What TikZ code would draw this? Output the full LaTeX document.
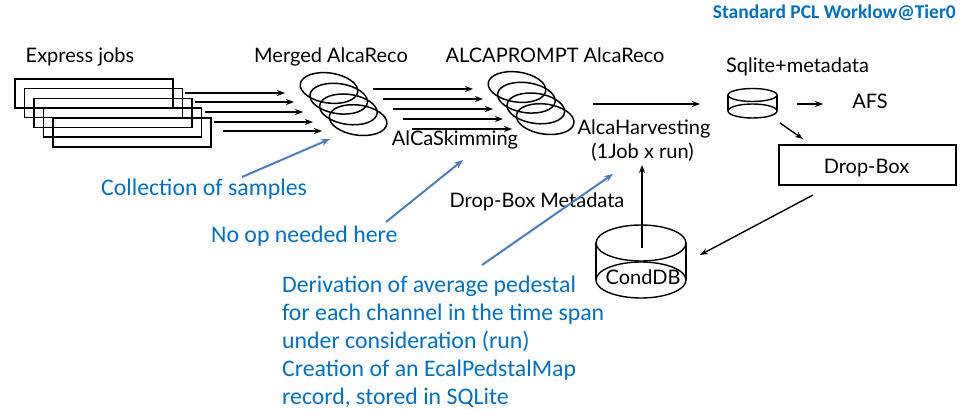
\documentclass[tikz,border=0pt]{standalone}
\usepackage{fontspec}
\setmainfont{Lato}
\newfontfamily\callout{Carlito}
\usetikzlibrary{shapes.geometric,arrows.meta}
\definecolor{noteblue}{HTML}{0070C0}
\definecolor{leaderblue}{HTML}{4A7EBB}
\begin{document}
\begin{tikzpicture}[x=1pt,y=-1pt,
  lbl/.style={font=\fontsize{20}{22}\selectfont, inner sep=0pt, anchor=base},
  note/.style={font=\callout\fontsize{23.8}{28}\selectfont, text=noteblue, inner sep=0pt, align=left},
  jobbox/.style={draw, line width=1.5pt, minimum width=158pt, minimum height=29pt, inner sep=0pt},
  ring/.style={line width=1.5pt},
  flow/.style={line width=1.4pt, -{Stealth[length=8pt,width=6pt]}},
  lead/.style={leaderblue, line width=2pt, -{Stealth[length=9pt,width=7pt]}},
  db/.style={line width=1.4pt},
]
\useasboundingbox (0,0) rectangle (961,409);

% title
\node[font=\callout\bfseries\fontsize{19.5}{20}\selectfont, text=noteblue, inner sep=0pt, anchor=base east] (title) at (956,19) {Standard PCL Worklow@Tier0};

% express jobs: five overlapping boxes
\foreach \k in {0,...,4}
  \node[jobbox] (job\k) at ({94+9.5*\k},{93.5+9.75*\k}) {};
\node[lbl] (expresslbl) at (80,63) {Express jobs};

% merged AlcaReco files: four tilted rings
\foreach \k in {0,...,3} {
  \coordinate (mrg\k) at ({329+9.7*\k},{88+10.7*\k});
  \draw[ring, rotate around={-8:(mrg\k)}] (mrg\k) ellipse [x radius=29pt, y radius=15pt];
}
\node[lbl] (mergedlbl) at (331,63) {Merged AlcaReco};

% ALCAPROMPT AlcaReco files
\foreach \k in {0,...,3} {
  \coordinate (apr\k) at ({517+9.4*\k},{87+10.7*\k});
  \draw[ring, rotate around={-8:(apr\k)}] (apr\k) ellipse [x radius=29pt, y radius=15pt];
}
\node[lbl] (alcapromptlbl) at (555,63) {ALCAPROMPT AlcaReco};

% arrows jobs -> merged
\foreach \k/\xs/\xe/\yy in {0/185/285/93, 1/195/294/102, 2/205/303/112, 3/214/313/122, 4/223/322/131} {
  \coordinate (js\k) at (\xs,\yy);
  \coordinate (je\k) at (\xe,\yy);
  \draw[flow] (js\k) -- (je\k);
}

% arrows merged -> ALCAPROMPT
\foreach \k/\xs/\xe/\yy in {0/373/473/89, 1/383/483/99, 2/393/493/109, 3/403/503/119, 4/412/512/129} {
  \coordinate (ms\k) at (\xs,\yy);
  \coordinate (me\k) at (\xe,\yy);
  \draw[flow] (ms\k) -- (me\k);
}
\node[lbl] (skimlbl) at (455,146) {AlCaSkimming};

% harvesting step
\node[lbl] (harvlbl) at (644,135) {AlcaHarvesting};
\node[lbl] (harvsub) at (642.5,158) {(1Job x run)};
\node[lbl] (dbmeta) at (537,207) {Drop-Box Metadata};

% sqlite file
\node[inner sep=0pt, minimum width=49pt, minimum height=30pt] (sqlite) at (752.5,103) {};
\draw[db] (728,95) -- (728,111) (777,95) -- (777,111);
\draw[db] (752.5,95) ellipse [x radius=24.5pt, y radius=6.5pt];
\draw[db] (752.5,111) ellipse [x radius=24.5pt, y radius=7pt];
\node[lbl] (sqlitelbl) at (797.5,73) {Sqlite+metadata};
\node[lbl] (afs) at (870,109) {AFS};

\coordinate (harvout) at (593,104);
\coordinate (sqin) at (700,104);
\draw[flow] (harvout) -- (sqin);
\coordinate (sqout) at (797,104);
\coordinate (toafs) at (823,104);
\draw[flow] (sqout) -- (toafs);

% drop-box
\node[draw, line width=1.5pt, minimum width=177pt, minimum height=40pt, inner sep=0pt] (dropbox) at (867.5,165) {};
\node[lbl] (dropboxlbl) at (866.5,173) {Drop-Box};
\coordinate (sqdiag) at (780,123);
\coordinate (dbdiag) at (803,139);
\draw[flow] (sqdiag) -- (dbdiag);

% CondDB
\node[inner sep=0pt, minimum width=90pt, minimum height=73pt] (conddb) at (641,261.5) {};
\draw[db] (596,243) -- (596,280) (686,243) -- (686,280);
\draw[db] (641,243) ellipse [x radius=45pt, y radius=18pt];
\draw[db] (641,280) ellipse [x radius=45pt, y radius=18pt];
\node[font=\fontsize{20}{24}\selectfont, inner sep=0pt, anchor=base] (conddblbl) at (643,284) {CondDB};

\coordinate (dbtop) at (642,248);
\coordinate (harvin) at (642,165);
\draw[flow] (dbtop) -- (harvin);
\coordinate (dropout) at (813,195);
\coordinate (condin) at (700,255);
\draw[flow] (dropout) -- (condin);

% notes
\node[note, anchor=base west] (n1) at (101,195) {Collection of samples};
\node[note, anchor=base west] (n2) at (211,242) {No op needed here};
\node[note, anchor=north west] (n3) at (282,276) {Derivation of average pedestal\\for each channel in the time span\\under consideration (run)\\Creation of an EcalPedstalMap\\record, stored in SQLite};

\coordinate (n1a) at (242,177);
\coordinate (n1b) at (330,139);
\draw[lead] (n1a) -- (n1b);
\coordinate (n2a) at (386,222);
\coordinate (n2b) at (463,160);
\draw[lead] (n2a) -- (n2b);
\coordinate (n3a) at (482,265);
\coordinate (n3b) at (613,174);
\draw[lead] (n3a) -- (n3b);
\end{tikzpicture}
\end{document}
